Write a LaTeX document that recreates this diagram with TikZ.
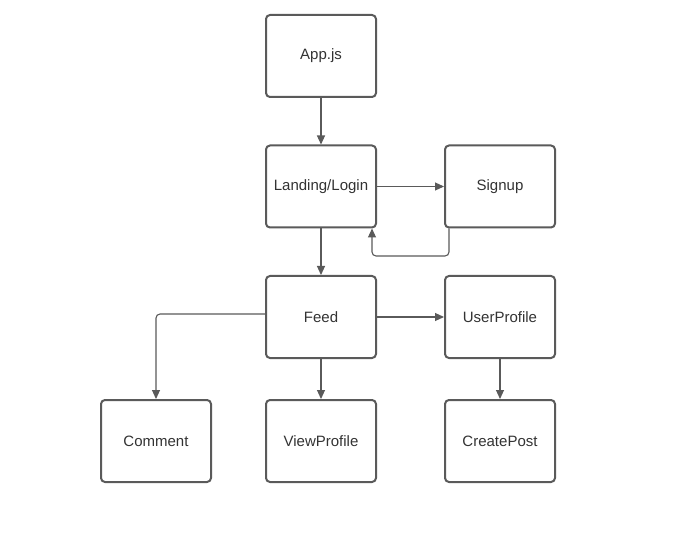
\documentclass[tikz,border=0pt]{standalone}
\usepackage{fontspec}
\setmainfont{Liberation Sans}
\usetikzlibrary{arrows.meta}
\definecolor{edge}{HTML}{5A5A5A}
\definecolor{txt}{HTML}{333333}
\tikzset{
  box/.style={draw=edge, line width=2pt, rounded corners=4pt, minimum width=110pt, minimum height=82pt, inner sep=0pt, text=txt, font=\fontsize{15pt}{18pt}\selectfont, fill=white},
  conn/.style={draw=edge, line width=1.1pt, rounded corners=4pt, -{Triangle[length=9pt,width=8pt]}}
}
\begin{document}
\begin{tikzpicture}[x=1pt,y=-1pt]
\useasboundingbox[fill=white] (0,0) rectangle (675,540);
\node[box] (app) at (321,56) {App.js};
\node[box] (land) at (321,186.5) {Landing/Login};
\node[box] (sign) at (500,186.5) {Signup};
\node[box] (feed) at (321,317) {Feed};
\node[box] (user) at (500,317) {UserProfile};
\node[box] (comm) at (156,441) {Comment};
\node[box] (view) at (321,441) {ViewProfile};
\node[box] (post) at (500,441) {CreatePost};
\draw[conn] (app.south) -- (land.north);
\draw[conn] (land.east) -- (sign.west);
\draw[conn] (land.south) -- (feed.north);
\coordinate (s1) at (449,256);
\draw[conn] (sign.south -| s1) -- (s1) -- (372,256) -- (land.south -| 372,0);
\draw[conn] (feed.west |- 0,314) -- (156,314) -- (comm.north);
\draw[conn] (feed.south) -- (view.north);
\draw[conn] (feed.east) -- (user.west);
\draw[conn] (user.south) -- (post.north);
\end{tikzpicture}
\end{document}
